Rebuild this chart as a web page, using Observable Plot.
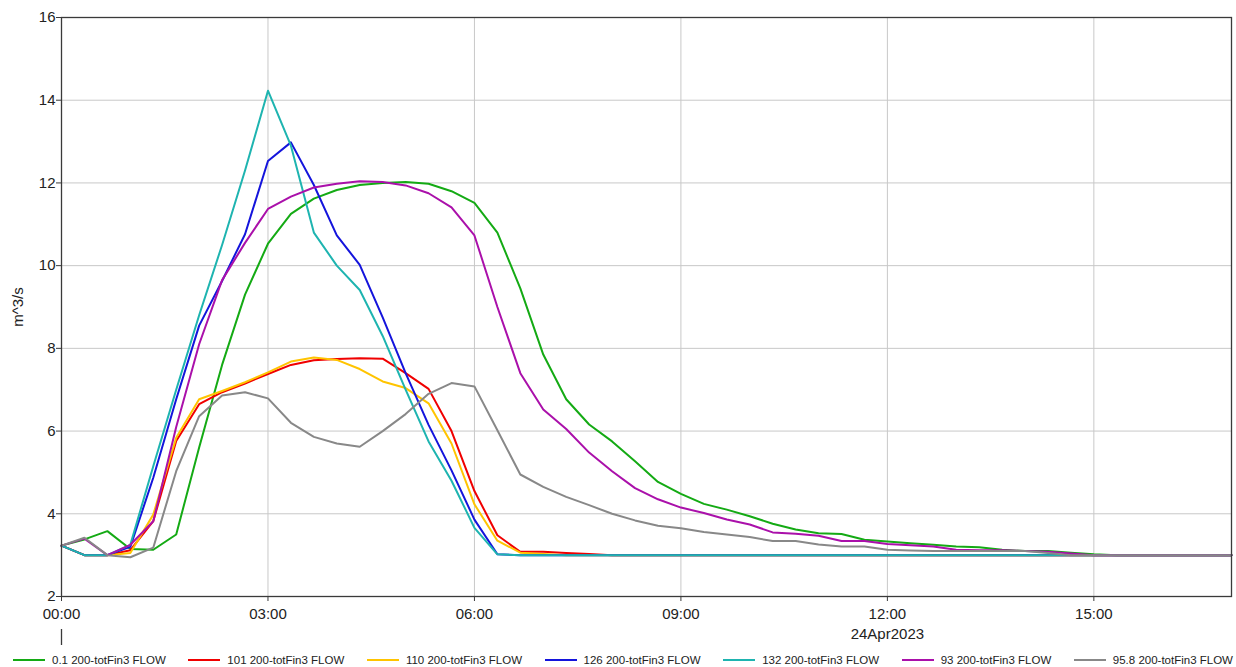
<!DOCTYPE html>
<html>
<head>
<meta charset="utf-8">
<script src="https://cdn.jsdelivr.net/npm/d3@7"></script>
<script src="https://cdn.jsdelivr.net/npm/@observablehq/plot@0.6"></script>
<style>
  html, body { margin: 0; padding: 0; background: #fff; }
  #chart svg { display: block; }
  #legend { display: flex; justify-content: space-between; align-items: center;
    height: 15px; padding: 0 3px 0 13px; font-family: "Liberation Sans", Arial, sans-serif;
    font-size: 11.5px; color: #222; box-sizing: border-box; width: 1236px; }
  .item { display: flex; align-items: center; white-space: nowrap; }
  .sw { width: 32px; height: 2px; margin-right: 7px; }
</style>
</head>
<body>
<div id="chart"></div>
<div id="legend"></div>
<script>
// Series names (legend order) and colours
const seriesNames = [
  "0.1 200-totFin3 FLOW", "101 200-totFin3 FLOW", "110 200-totFin3 FLOW",
  "126 200-totFin3 FLOW", "132 200-totFin3 FLOW", "93 200-totFin3 FLOW", "95.8 200-totFin3 FLOW"
];
const seriesColors = ["#14aa14", "#f00000", "#ffc400", "#1414dc", "#1eb4b0", "#aa10aa", "#888888"];

// Values every 20 minutes from 00:00 to 17:00 (m^3/s)
const flow_0_1 = [3.23,3.38,3.58,3.15,3.13,3.5,5.6,7.6,9.3,10.53,11.25,11.62,11.83,11.95,12.0,12.02,11.98,11.8,11.52,10.8,9.45,7.85,6.77,6.16,5.75,5.27,4.77,4.48,4.24,4.1,3.94,3.76,3.62,3.53,3.51,3.37,3.33,3.29,3.25,3.21,3.19,3.13,3.1,3.1,3.06,3.02,3.0,3.0,3.0,3.0,3.0,3.0];
const flow_101 = [3.23,3.0,3.0,3.12,3.82,5.76,6.65,6.94,7.15,7.38,7.6,7.71,7.74,7.76,7.75,7.4,7.02,6.0,4.55,3.48,3.08,3.08,3.05,3.03,3.0,3.0,3.0,3.0,3.0,3.0,3.0,3.0,3.0,3.0,3.0,3.0,3.0,3.0,3.0,3.0,3.0,3.0,3.0,3.0,3.0,3.0,3.0,3.0,3.0,3.0,3.0,3.0];
const flow_110 = [3.23,3.0,3.0,3.05,3.98,5.84,6.77,6.97,7.18,7.42,7.68,7.78,7.72,7.5,7.2,7.04,6.67,5.7,4.23,3.35,3.06,3.03,3.0,3.0,3.0,3.0,3.0,3.0,3.0,3.0,3.0,3.0,3.0,3.0,3.0,3.0,3.0,3.0,3.0,3.0,3.0,3.0,3.0,3.0,3.0,3.0,3.0,3.0,3.0,3.0,3.0,3.0];
const flow_126 = [3.23,3.0,3.0,3.2,4.87,6.77,8.55,9.63,10.76,12.53,12.98,11.95,10.73,10.02,8.75,7.4,6.15,5.05,3.86,3.02,3.0,3.0,3.0,3.0,3.0,3.0,3.0,3.0,3.0,3.0,3.0,3.0,3.0,3.0,3.0,3.0,3.0,3.0,3.0,3.0,3.0,3.0,3.0,3.0,3.0,3.0,3.0,3.0,3.0,3.0,3.0,3.0];
const flow_132 = [3.23,3.0,3.0,3.25,5.15,7.0,8.8,10.5,12.3,14.23,12.9,10.8,10.0,9.41,8.3,7.0,5.75,4.8,3.66,3.02,3.0,3.0,3.0,3.0,3.0,3.0,3.0,3.0,3.0,3.0,3.0,3.0,3.0,3.0,3.0,3.0,3.0,3.0,3.0,3.0,3.0,3.0,3.0,3.0,3.0,3.0,3.0,3.0,3.0,3.0,3.0,3.0];
const flow_93 = [3.23,3.4,3.0,3.25,3.82,6.1,8.1,9.65,10.55,11.37,11.67,11.89,11.98,12.04,12.02,11.94,11.75,11.41,10.73,9.0,7.4,6.52,6.05,5.48,5.03,4.62,4.35,4.15,4.02,3.86,3.74,3.55,3.52,3.47,3.34,3.34,3.27,3.24,3.21,3.13,3.12,3.12,3.1,3.08,3.04,3.0,3.0,3.0,3.0,3.0,3.0,3.0];
const flow_95_8 = [3.23,3.42,3.0,2.95,3.18,5.03,6.36,6.86,6.94,6.79,6.2,5.86,5.7,5.62,6.0,6.41,6.9,7.16,7.08,6.02,4.95,4.65,4.41,4.21,4.0,3.84,3.71,3.65,3.56,3.5,3.44,3.34,3.34,3.26,3.21,3.21,3.13,3.11,3.1,3.1,3.1,3.1,3.1,3.05,3.0,3.0,3.0,3.0,3.0,3.0,3.0,3.0];

const allSeries = [flow_0_1, flow_101, flow_110, flow_126, flow_132, flow_93, flow_95_8];

// Axis ticks
const xTickHours = [0, 3, 6, 9, 12, 15];
const yTicks = [2, 4, 6, 8, 10, 12, 14, 16];
const dateLabel = "24Apr2023";
const dateLabelHour = 12;
const dateStartHour = 0;
const yLabel = "m^3/s";

const stepHours = 20 / 60;
const table = [];
allSeries.forEach((vals, s) => {
  vals.forEach((v, i) => table.push({series: seriesNames[s], h: i * stepHours, v}));
});

const fmt = h => String(h).padStart(2, "0") + ":00";

const plot = Plot.plot({
  width: 1236,
  height: 652,
  marginTop: 17,
  marginBottom: 56,
  marginLeft: 61,
  marginRight: 5,
  style: {fontFamily: "'Liberation Sans', Arial, sans-serif", fontSize: "15px", color: "#222", background: "#fff"},
  x: {domain: [0, 17]},
  y: {domain: [2, 16]},
  color: {domain: seriesNames, range: seriesColors},
  marks: [
    Plot.gridX(xTickHours, {stroke: "#c8c8c8", strokeOpacity: 1, strokeWidth: 1}),
    Plot.gridY(yTicks, {stroke: "#c8c8c8", strokeOpacity: 1, strokeWidth: 1}),
    Plot.line(table, {x: "h", y: "v", z: "series", stroke: "series", strokeWidth: 2}),
    Plot.frame({stroke: "#3a3a3a", strokeWidth: 1.3}),
    Plot.axisX(xTickHours, {tickSize: 5, tickPadding: 7, tickFormat: fmt, label: null, fontSize: 15, stroke: "#3a3a3a"}),
    Plot.axisY(yTicks, {tickSize: 5, tickPadding: 1, label: yLabel, labelAnchor: "center", labelArrow: "none", labelOffset: 49, fontSize: 15, stroke: "#3a3a3a"}),
    Plot.text([{h: dateLabelHour, t: dateLabel}], {x: "h", text: "t", frameAnchor: "bottom", dy: 42, fontSize: 15, fill: "#222"}),
    Plot.tickX([{h: dateStartHour}], {x: "h", stroke: "#3a3a3a", strokeWidth: 1.3, insetTop: 612, insetBottom: -49})
  ]
});
document.getElementById("chart").appendChild(plot);

const legend = document.getElementById("legend");
seriesNames.forEach((name, i) => {
  const item = document.createElement("div");
  item.className = "item";
  const sw = document.createElement("span");
  sw.className = "sw";
  sw.style.background = seriesColors[i];
  const tx = document.createElement("span");
  tx.textContent = name;
  item.appendChild(sw);
  item.appendChild(tx);
  legend.appendChild(item);
});
</script>
</body>
</html>
